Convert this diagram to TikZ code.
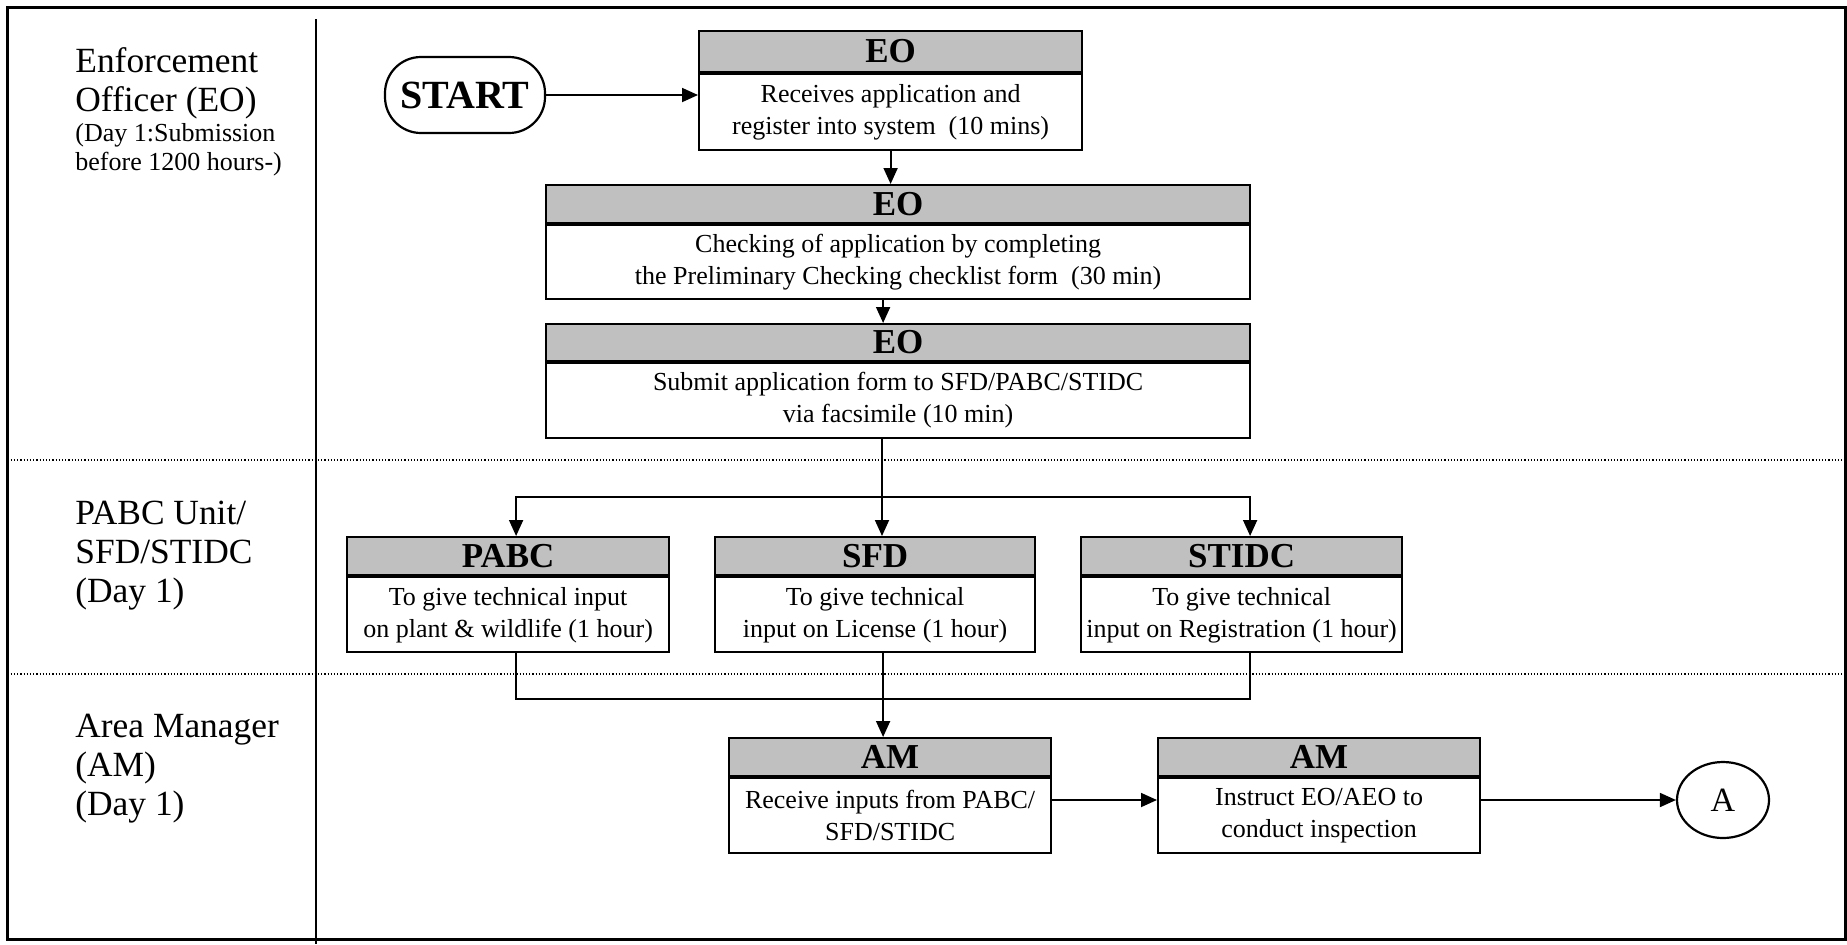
\documentclass[tikz,border=0pt]{standalone}
\usepackage{fontspec}
\setmainfont{Liberation Serif}
\usetikzlibrary{arrows.meta,positioning,shapes.geometric}
\definecolor{hdrgray}{RGB}{192,192,192}
\tikzset{
  hdr/.style={draw,line width=1.1pt,fill=hdrgray,inner sep=0pt,minimum width=161pt,minimum height=19pt,font=\fontsize{17.5}{19}\selectfont\bfseries},
  body/.style={draw,line width=1.1pt,fill=white,inner sep=0pt,align=center,minimum width=161pt,minimum height=37.5pt,font=\fontsize{13}{16}\selectfont},
  lane/.style={anchor=base west,align=left,inner sep=0pt,font=\fontsize{17.7}{19.3}\selectfont},
  flow/.style={draw,line width=0.9pt,-{Triangle[length=8pt,width=7pt]}},
  line/.style={draw,line width=0.9pt},
}

\begin{document}
\begin{tikzpicture}[x=0.5pt,y=-0.5pt,node distance=0pt]
\useasboundingbox[fill=white] (0,0) rectangle (1847,944);
% lanes
\draw[line width=1.5pt] (7.5,7) rectangle (1845,939);
\draw[line width=1pt] (316,19) -- (316,944);
\draw[densely dotted,line width=0.6pt] (7.5,460) -- (1845,460) (7.5,674) -- (1845,674);

% base anchor sits on the last line
\node[lane] (laneEO) at (75,111) {Enforcement\\Officer (EO)};
\node[lane,font=\fontsize{13}{14.2}\selectfont] (laneEOday) at (75,170) {(Day 1:Submission\\before 1200 hours-)};
\node[lane] (laneUnit) at (75,602) {PABC Unit/\\SFD/STIDC\\(Day 1)};
\node[lane] (laneAM) at (75,815) {Area Manager\\(AM)\\(Day 1)};

% EO steps
\node[draw,line width=1.1pt,rounded corners=18pt,minimum width=80pt,minimum height=38pt,inner sep=0pt,font=\fontsize{20}{22}\selectfont\bfseries] (start) at (465,95) {START};

\node[hdr,anchor=north west,minimum width=191.5pt,minimum height=20.5pt] (EO1h) at (698,29.5) {EO};
\node[body,below=of EO1h,minimum width=191.5pt,minimum height=38pt] (EO1b) {Receives application and\\register into system\ \ (10 mins)};

\node[hdr,anchor=north west,minimum width=352pt,minimum height=18.75pt] (EO2h) at (545,184) {EO};
\node[body,below=of EO2h,minimum width=352pt,minimum height=37.25pt] (EO2b) {Checking of application by completing\\the Preliminary Checking checklist form\ \ (30 min)};

\node[hdr,anchor=north west,minimum width=352pt,minimum height=18.25pt] (EO3h) at (545,323) {EO};
\node[body,below=of EO3h,minimum width=352pt,minimum height=37.75pt] (EO3b) {Submit application form to SFD/PABC/STIDC\\via facsimile (10 min)};

% technical input
\node[hdr,anchor=north west] (PABCh) at (346,536) {PABC};
\node[body,below=of PABCh] (PABCb) {To give technical input\\on plant \& wildlife (1 hour)};
\node[hdr,anchor=north west,minimum width=160pt] (SFDh) at (714,536) {SFD};
\node[body,below=of SFDh,minimum width=160pt] (SFDb) {To give technical\\input on License (1 hour)};
\node[hdr,anchor=north west,minimum width=160.5pt] (STIDCh) at (1080,536) {STIDC};
\node[body,below=of STIDCh,minimum width=160.5pt] (STIDCb) {To give technical\\input on Registration (1 hour)};

% area manager
\node[hdr,anchor=north west] (AM1h) at (728,737) {AM};
\node[body,below=of AM1h] (AM1b) {Receive inputs from PABC/\\SFD/STIDC};
\node[hdr,anchor=north west] (AM2h) at (1157,737) {AM};
\node[body,below=of AM2h] (AM2b) {Instruct EO/AEO to\\conduct inspection};
\node[draw,ellipse,line width=1.1pt,minimum width=46pt,minimum height=38pt,inner sep=0pt,font=\fontsize{17}{19}\selectfont] (A) at (1723,800) {A};

\coordinate (fork) at (882,497);
\coordinate (join) at (882,699);

\draw[flow] (start) -- (start -| EO1b.west);
\draw[flow] (EO1b.south) -- (EO1b.south |- EO2h.north);
\draw[flow] ([xshift=-7.5pt]EO2b.south) -- ([xshift=-7.5pt]EO2b.south |- EO3h.north);
\draw[flow] (fork |- EO3b.south) -- (fork |- SFDh.north);
\draw[flow] (fork) -| ([xshift=4pt]PABCh.north);
\draw[flow] (fork) -| ([xshift=4.25pt]STIDCh.north);
\draw[line] ([xshift=4pt]PABCb.south) |- (join) -| ([xshift=4.25pt]STIDCb.south);
\draw[flow] ([xshift=4pt]SFDb.south) -- ([xshift=4pt]SFDb.south |- AM1h.north);
\draw[flow] (AM1b.east |- A) -- (AM2b.west |- A);
\draw[flow] (AM2b.east |- A) -- (A);
\end{tikzpicture}
\end{document}
